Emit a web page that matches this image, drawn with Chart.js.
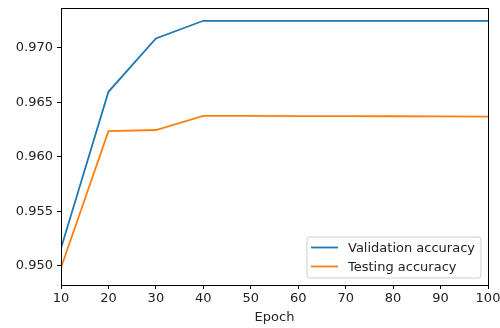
<!DOCTYPE html>
<html>
<head>
<meta charset="utf-8">
<script src="https://cdn.jsdelivr.net/npm/chart.js@4/dist/chart.umd.min.js"></script>
<style>
html,body{margin:0;padding:0;background:#fff;}
#wrap{width:500px;height:328px;position:relative;}
</style>
</head>
<body>
<div id="wrap"><canvas id="c" width="500" height="328"></canvas></div>
<script>
const epochs = [10, 20, 30, 40, 50, 60, 70, 80, 90, 100];
const validationAcc = [0.95162, 0.96595, 0.97083, 0.97245, 0.97245, 0.97245, 0.97245, 0.97245, 0.97245, 0.97245];
const testingAcc = [0.94985, 0.96235, 0.96245, 0.96375, 0.96374, 0.96373, 0.96372, 0.96371, 0.96369, 0.96367];
const xTicks = [10, 20, 30, 40, 50, 60, 70, 80, 90, 100];
const yTicks = [0.950, 0.955, 0.960, 0.965, 0.970];
const seriesLabels = ['Validation accuracy', 'Testing accuracy'];
const xTitle = 'Epoch';

const FONT = "'DejaVu Sans', sans-serif";
const TXT = '#222';

const framePlugin = {
  id: 'frame',
  afterDraw(chart) {
    const ctx = chart.ctx, a = chart.chartArea;
    ctx.save();
    ctx.strokeStyle = '#000';
    ctx.lineWidth = 1;
    ctx.strokeRect(Math.round(a.left) + 0.5, Math.round(a.top) + 0.5, Math.round(a.right - a.left), Math.round(a.bottom - a.top));
    // legend
    ctx.font = '13px ' + FONT;
    let tw = 0;
    chart.data.datasets.forEach(d => { tw = Math.max(tw, ctx.measureText(d.label).width); });
    const w = 41 + tw + 6, h = 41;
    const x1 = a.right - 7, y1 = a.bottom - 7;
    const x0 = x1 - w, y0 = y1 - h;
    const r = 3;
    ctx.beginPath();
    ctx.moveTo(x0 + r, y0);
    ctx.lineTo(x1 - r, y0); ctx.quadraticCurveTo(x1, y0, x1, y0 + r);
    ctx.lineTo(x1, y1 - r); ctx.quadraticCurveTo(x1, y1, x1 - r, y1);
    ctx.lineTo(x0 + r, y1); ctx.quadraticCurveTo(x0, y1, x0, y1 - r);
    ctx.lineTo(x0, y0 + r); ctx.quadraticCurveTo(x0, y0, x0 + r, y0);
    ctx.closePath();
    ctx.fillStyle = 'rgba(255,255,255,0.8)';
    ctx.fill();
    ctx.strokeStyle = '#d0d0d0';
    ctx.stroke();
    chart.data.datasets.forEach((d, i) => {
      const yy = y0 + 10.5 + i * 19;
      ctx.strokeStyle = d.borderColor;
      ctx.lineWidth = 1.8;
      ctx.beginPath();
      ctx.moveTo(x0 + 4, yy); ctx.lineTo(x0 + 31, yy);
      ctx.stroke();
      ctx.fillStyle = TXT;
      ctx.textBaseline = 'middle';
      ctx.textAlign = 'left';
      ctx.fillText(d.label, x0 + 41, yy + 1);
    });
    ctx.restore();
  }
};

new Chart(document.getElementById('c'), {
  type: 'line',
  data: {
    datasets: [
      { label: seriesLabels[0], data: epochs.map((e, i) => ({x: e, y: validationAcc[i]})), borderColor: '#1f77b4', borderWidth: 1.8, pointRadius: 0, tension: 0, fill: false },
      { label: seriesLabels[1], data: epochs.map((e, i) => ({x: e, y: testingAcc[i]})), borderColor: '#ff7f0e', borderWidth: 1.8, pointRadius: 0, tension: 0, fill: false }
    ]
  },
  options: {
    responsive: false,
    animation: false,
    layout: { padding: { top: 8, right: 12, left: 0, bottom: 3 } },
    plugins: { legend: { display: false }, tooltip: { enabled: false } },
    scales: {
      x: {
        type: 'linear', min: 10, max: 100,
        afterBuildTicks: s => { s.ticks = xTicks.map(v => ({value: v})); },
        afterFit: s => { s.height = 40; s.paddingLeft = 0; s.paddingRight = 0; s.paddingTop = 0; s.paddingBottom = 0; },
        ticks: { font: { family: FONT, size: 13 }, color: TXT, padding: 2, maxRotation: 0 },
        grid: { drawOnChartArea: false, tickLength: 4, color: '#000' },
        border: { color: '#000' },
        title: { display: true, text: xTitle, font: { family: FONT, size: 13 }, color: TXT, padding: { top: 0, bottom: 0 } }
      },
      y: {
        type: 'linear', min: 0.94826, max: 0.97362,
        afterBuildTicks: s => { s.ticks = yTicks.map(v => ({value: v})); },
        afterFit: s => { s.width = 61; s.paddingLeft = 0; s.paddingRight = 0; s.paddingTop = 0; s.paddingBottom = 0; },
        ticks: { font: { family: FONT, size: 13 }, color: TXT, padding: 4, callback: v => v.toFixed(3) },
        grid: { drawOnChartArea: false, tickLength: 4, color: '#000' },
        border: { color: '#000' }
      }
    }
  },
  plugins: [framePlugin]
});
</script>
</body>
</html>
